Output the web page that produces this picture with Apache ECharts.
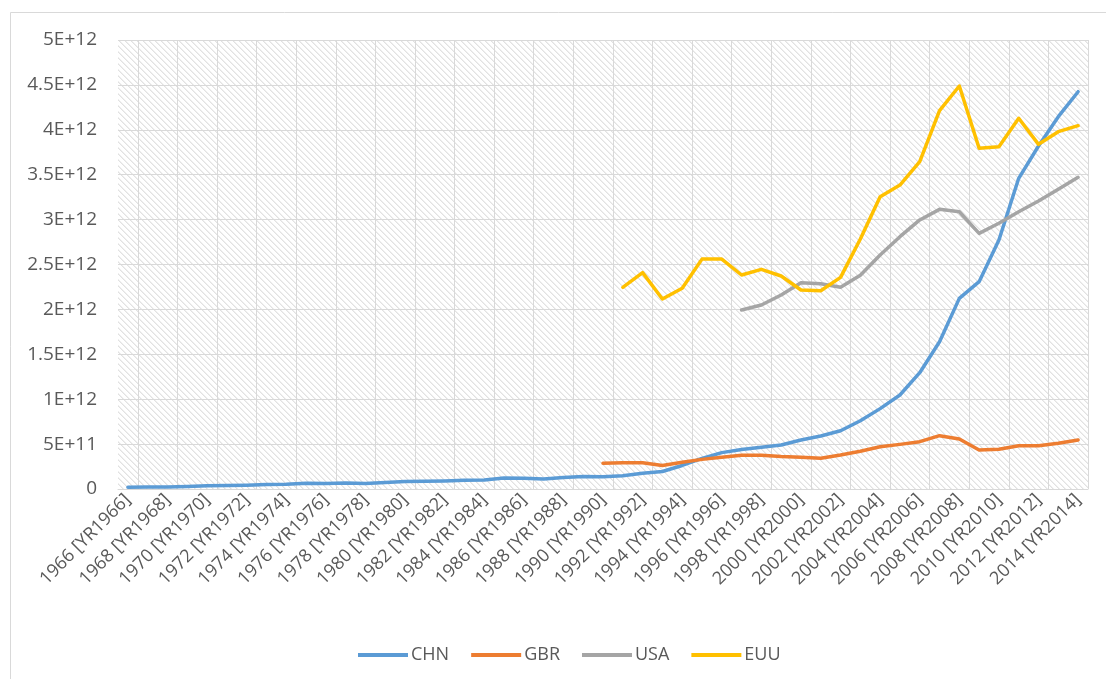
<!DOCTYPE html>
<html>
<head>
<meta charset="utf-8">
<script src="https://cdn.jsdelivr.net/npm/echarts@6.0.0/dist/echarts.min.js"></script>
<style>
  html, body { margin: 0; padding: 0; background: #ffffff; }
  #chart { width: 1106px; height: 679px; }
</style>
</head>
<body>
<div id="chart"></div>
<script>
// Years on the category axis
const years = [1966, 1967, 1968, 1969, 1970, 1971, 1972, 1973, 1974, 1975,
  1976, 1977, 1978, 1979, 1980, 1981, 1982, 1983, 1984, 1985,
  1986, 1987, 1988, 1989, 1990, 1991, 1992, 1993, 1994, 1995,
  1996, 1997, 1998, 1999, 2000, 2001, 2002, 2003, 2004, 2005,
  2006, 2007, 2008, 2009, 2010, 2011, 2012, 2013, 2014];

// Series values (current US$), each listed from its first reported year
const chnStart = 1966;
const chnValues = [0.020e12, 0.022e12, 0.021e12, 0.027e12, 0.035e12, 0.039e12, 0.043e12, 0.050e12, 0.052e12, 0.065e12,
  0.060e12, 0.066e12, 0.062e12, 0.072e12, 0.084e12, 0.087e12, 0.090e12, 0.097e12, 0.100e12, 0.122e12,
  0.121e12, 0.112e12, 0.128e12, 0.138e12, 0.137e12, 0.148e12, 0.176e12, 0.195e12, 0.262e12, 0.340e12,
  0.405e12, 0.440e12, 0.465e12, 0.490e12, 0.545e12, 0.590e12, 0.648e12, 0.760e12, 0.895e12, 1.047e12,
  1.295e12, 1.640e12, 2.123e12, 2.309e12, 2.773e12, 3.460e12, 3.820e12, 4.146e12, 4.424e12];

const gbrStart = 1990;
const gbrValues = [0.286e12, 0.293e12, 0.293e12, 0.262e12, 0.297e12, 0.330e12, 0.353e12, 0.375e12, 0.376e12, 0.362e12,
  0.353e12, 0.343e12, 0.378e12, 0.420e12, 0.471e12, 0.497e12, 0.527e12, 0.594e12, 0.557e12, 0.434e12,
  0.442e12, 0.482e12, 0.482e12, 0.509e12, 0.546e12];

const usaStart = 1997;
const usaValues = [1.993e12, 2.049e12, 2.160e12, 2.297e12, 2.285e12, 2.246e12, 2.380e12, 2.606e12, 2.810e12, 2.996e12,
  3.114e12, 3.088e12, 2.847e12, 2.959e12, 3.088e12, 3.207e12, 3.337e12, 3.471e12];

const euuStart = 1991;
const euuValues = [2.246e12, 2.410e12, 2.116e12, 2.235e12, 2.560e12, 2.560e12, 2.383e12, 2.446e12, 2.372e12, 2.216e12,
  2.208e12, 2.357e12, 2.784e12, 3.255e12, 3.385e12, 3.645e12, 4.213e12, 4.488e12, 3.794e12, 3.812e12,
  4.128e12, 3.838e12, 3.979e12, 4.046e12];

// Value-axis tick labels
const yTickLabels = ['0', '5E+11', '1E+12', '1.5E+12', '2E+12', '2.5E+12', '3E+12', '3.5E+12', '4E+12', '4.5E+12', '5E+12'];

const categories = years.map(y => y + ' [YR' + y + ']');

// Place a series on the full year axis, leaving gaps where there is no data
function alignToYears(start, values) {
  return years.map(y => {
    const k = y - start;
    return (k >= 0 && k < values.length) ? values[k] : null;
  });
}

// Light diagonal hatch used behind the plot area
function makeHatch() {
  const n = 6;
  const c = document.createElement('canvas');
  c.width = n; c.height = n;
  const ctx = c.getContext('2d');
  ctx.fillStyle = '#ffffff';
  ctx.fillRect(0, 0, n, n);
  for (let y = 0; y < n; y++) {
    for (let x = 0; x < n; x++) {
      const d = (x - y + 2 * n) % n;
      if (d === 0) { ctx.fillStyle = '#e2e2e2'; ctx.fillRect(x, y, 1, 1); }
      else if (d === 1) { ctx.fillStyle = '#efefef'; ctx.fillRect(x, y, 1, 1); }
    }
  }
  return c;
}

const FONT = '"Open Sans", "Liberation Sans", sans-serif';
const TEXT = '#595959';
const GRIDLINE = '#d9d9d9';

const chart = echarts.init(document.getElementById('chart'), null, { renderer: 'canvas' });

const seriesDefs = [
  { name: 'CHN', color: '#5B9BD5', data: alignToYears(chnStart, chnValues) },
  { name: 'GBR', color: '#ED7D31', data: alignToYears(gbrStart, gbrValues) },
  { name: 'USA', color: '#A5A5A5', data: alignToYears(usaStart, usaValues) },
  { name: 'EUU', color: '#FFC000', data: alignToYears(euuStart, euuValues) }
];

chart.setOption({
  animation: false,
  backgroundColor: '#ffffff',
  textStyle: { fontFamily: FONT },
  graphic: [{
    type: 'rect',
    silent: true,
    shape: { x: 10.5, y: 12.5, width: 1200, height: 1000 },
    style: { fill: 'none', stroke: GRIDLINE, lineWidth: 1 }
  }],
  grid: {
    left: 118, right: 18, top: 40, bottom: 190,
    show: true,
    borderWidth: 0,
    backgroundColor: { image: makeHatch(), repeat: 'repeat' },
    outerBoundsMode: 'none'
  },
  legend: {
    left: 353, top: 641,
    icon: 'rect',
    itemWidth: 50, itemHeight: 4, itemGap: 22,
    textStyle: { fontFamily: FONT, fontSize: 18, color: TEXT, padding: [0, 0, 0, -2] },
    data: seriesDefs.map(s => s.name)
  },
  xAxis: {
    type: 'category',
    data: categories,
    boundaryGap: true,
    axisLine: { show: true, lineStyle: { color: GRIDLINE, width: 1 } },
    axisTick: { show: false },
    axisLabel: {
      interval: 1,
      rotate: 45,
      margin: 8,
      fontFamily: FONT,
      fontSize: 18,
      color: TEXT
    },
    splitLine: {
      show: true,
      interval: (index) => index % 2 === 1,
      lineStyle: { color: GRIDLINE, width: 1 }
    }
  },
  yAxis: {
    type: 'value',
    min: 0, max: 5e12, interval: 5e11,
    axisLine: { show: false },
    axisTick: { show: false },
    axisLabel: {
      margin: 21,
      fontFamily: FONT,
      fontSize: 19,
      color: TEXT,
      formatter: (v) => yTickLabels[Math.round(v / 5e11)]
    },
    splitLine: { show: true, lineStyle: { color: GRIDLINE, width: 1 } }
  },
  series: seriesDefs.map(s => ({
    name: s.name,
    type: 'line',
    data: s.data,
    symbol: 'none',
    showSymbol: false,
    connectNulls: false,
    color: s.color,
    lineStyle: { color: s.color, width: 3.5, cap: 'round', join: 'round' },
    itemStyle: { color: s.color }
  }))
});
</script>
</body>
</html>
